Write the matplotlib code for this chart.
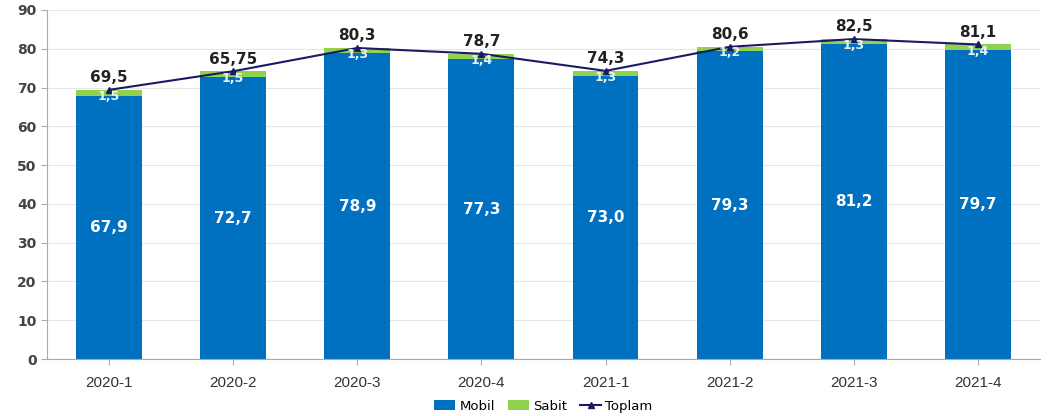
import matplotlib.pyplot as plt
import numpy as np

quarters = ['2020-1', '2020-2', '2020-3', '2020-4', '2021-1', '2021-2', '2021-3', '2021-4']
mobil = [67.9, 72.7, 78.9, 77.3, 73.0, 79.3, 81.2, 79.7]
sabit = [1.5, 1.5, 1.3, 1.4, 1.3, 1.2, 1.3, 1.4]
toplam = [69.4, 74.2, 80.2, 78.7, 74.3, 80.5, 82.5, 81.1]
toplam_labels = ['69,5', '65,75', '80,3', '78,7', '74,3', '80,6', '82,5', '81,1']

fig = plt.figure(figsize=(10.53, 4.16), dpi=100)
ax = fig.add_axes([0.0446, 0.137, 0.943, 0.839])

x = np.arange(len(quarters))
w = 0.53
b1 = ax.bar(x, mobil, w, color='#0070C0', label='Mobil', zorder=2)
b2 = ax.bar(x, sabit, w, bottom=mobil, color='#92D050', label='Sabit', zorder=2)
ln, = ax.plot(x, toplam, color='#1A1A66', lw=1.5, marker='^', ms=5, label='Toplam', zorder=3)

for i in range(len(x)):
    ax.text(x[i], mobil[i] / 2, f'{mobil[i]:.1f}'.replace('.', ','), ha='center', va='center',
            color='white', fontsize=11, fontweight='bold', zorder=4)
    ax.text(x[i], mobil[i] - 0.3, f'{sabit[i]:.1f}'.replace('.', ','), ha='center', va='center',
            color='#E8F0F8', fontsize=9, fontweight='bold', zorder=4)
    ax.text(x[i], toplam[i] + 1.2, toplam_labels[i], ha='center', va='bottom',
            color='#222222', fontsize=11, fontweight='bold', zorder=4)

ax.set_xlim(-0.5, len(x) - 0.5)
ax.set_ylim(0, 90)
ax.set_yticks(range(0, 91, 10))
ax.set_xticks(x)
ax.set_xticklabels(quarters, fontsize=11, color='#333333', fontfamily='Liberation Sans')
for lbl in ax.get_yticklabels():
    lbl.set_fontsize(10)
    lbl.set_fontweight('bold')
    lbl.set_color('#444444')
ax.grid(axis='y', color='#E6E6E6', lw=0.8, zorder=0)
ax.spines['top'].set_visible(False)
ax.spines['right'].set_visible(False)
ax.spines['left'].set_color('#AAAAAA')
ax.spines['bottom'].set_color('#AAAAAA')
ax.tick_params(axis='both', colors='#AAAAAA', length=4)
ax.tick_params(axis='x', labelcolor='#333333', pad=8)
ax.tick_params(axis='y', labelcolor='#444444')

ax.legend([b1, b2, ln], ['Mobil', 'Sabit', 'Toplam'], loc='center', bbox_to_anchor=(0.5, -0.135),
          ncol=3, frameon=False, fontsize=9.5, handlelength=1.6, handletextpad=0.3,
          columnspacing=1.0, borderpad=0.1)

plt.savefig('out.png')
